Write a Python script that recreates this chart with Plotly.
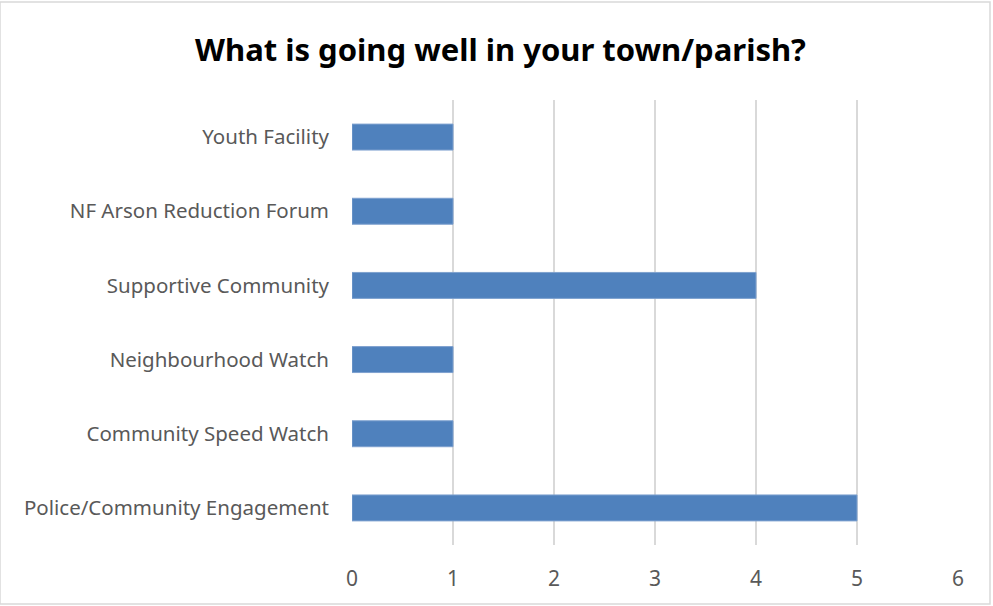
import plotly.graph_objects as go

# Responses, listed bottom-to-top as drawn on the category axis
categories = [
    "Police/Community Engagement",
    "Community Speed Watch",
    "Neighbourhood Watch",
    "Supportive Community",
    "NF Arson Reduction Forum",
    "Youth Facility",
]
counts = [5, 1, 1, 4, 1, 1]
x_ticks = [0, 1, 2, 3, 4, 5, 6]

FONT = "'Noto Sans', 'Open Sans', sans-serif"

fig = go.Figure(
    go.Bar(
        x=counts,
        y=categories,
        orientation="h",
        marker=dict(color="#4f81bd", line=dict(color="#7ea1cf", width=1)),
        hoverinfo="x+y",
    )
)

fig.update_layout(
    width=993,
    height=606,
    margin=dict(l=352, r=35, t=100, b=61),
    paper_bgcolor="white",
    plot_bgcolor="white",
    bargap=0.65,
    showlegend=False,
    title=dict(
        text="<b>What is going well in your town/parish?</b>",
        x=0.504,
        xanchor="center",
        y=0.917,
        yanchor="middle",
        font=dict(family=FONT, size=31, color="#000000"),
    ),
    font=dict(family=FONT, size=20, color="#595959"),
)

fig.update_xaxes(
    range=[0, 6],
    tickvals=x_ticks,
    showgrid=True,
    gridcolor="#d9d9d9",
    gridwidth=1.5,
    zeroline=False,
    showline=False,
    ticks="",
    ticklabelstandoff=19,
    tickfont=dict(family=FONT, size=21, color="#595959"),
)
fig.update_yaxes(
    showgrid=False,
    showline=False,
    ticks="",
    ticklabelstandoff=22,
    tickfont=dict(family=FONT, size=20.5, color="#595959"),
)

# Light frame around the whole chart area
fig.add_shape(
    type="rect",
    xref="paper",
    yref="paper",
    x0=-352 / 606,
    x1=1 + 32 / 606,
    y0=-59 / 445,
    y1=1 + 98 / 445,
    line=dict(color="#d9d9d9", width=1.5),
    fillcolor="rgba(0,0,0,0)",
    layer="below",
)

fig.write_html("out.html")
